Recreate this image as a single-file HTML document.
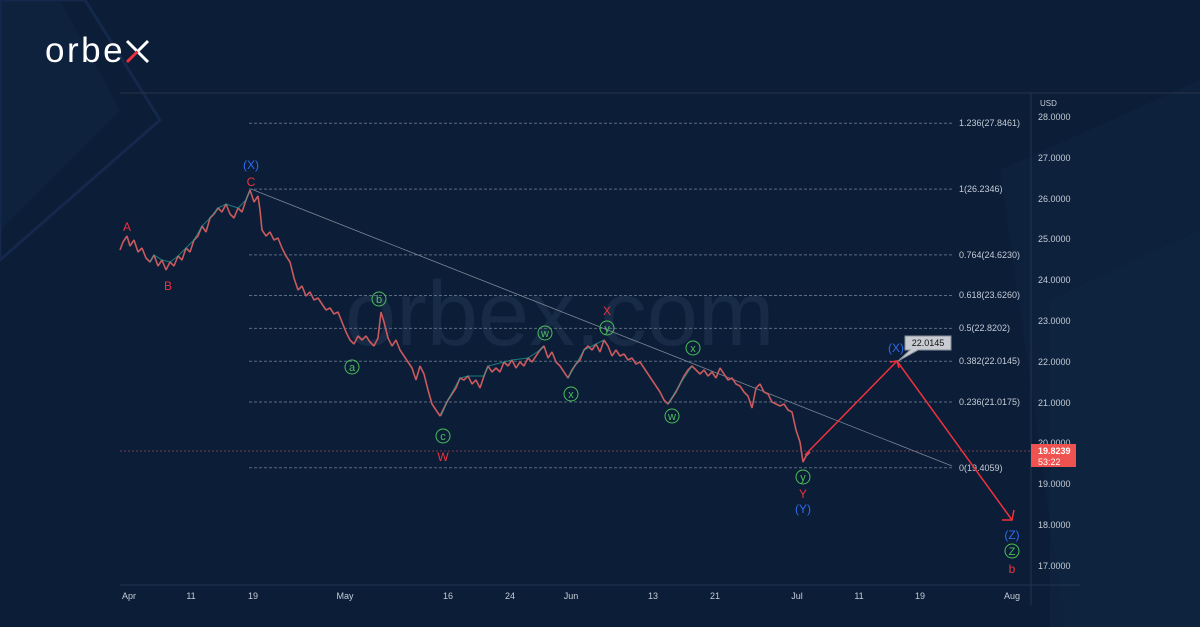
<!DOCTYPE html>
<html><head><meta charset="utf-8"><style>
html,body{margin:0;padding:0;background:#0b1d37;}
svg{display:block;font-family:"Liberation Sans",sans-serif;}
</style></head><body>
<svg width="1200" height="627" viewBox="0 0 1200 627" xmlns="http://www.w3.org/2000/svg">
<rect width="1200" height="627" fill="#0b1d37"/>
<polygon points="0,0 60,0 120,110 0,230" fill="#0e223e"/>
<polygon points="0,0 85,0 160,120 0,260" fill="none" stroke="#13284a" stroke-width="3"/>
<polygon points="1050,627 1200,627 1200,230 1050,300" fill="#0e223e"/>
<polygon points="1100,627 1200,627 1200,80 1000,170 1065,627" fill="#0f2540" opacity="0.6"/>
<text x="45" y="62" font-size="35" fill="#ffffff" letter-spacing="2.5">orbe</text>
<line x1="127" y1="41" x2="148" y2="62" stroke="#fff" stroke-width="3"/>
<line x1="148" y1="41" x2="137.5" y2="51.5" stroke="#fff" stroke-width="3"/>
<line x1="137.5" y1="51.5" x2="127" y2="62" stroke="#e8323c" stroke-width="3"/>
<text x="345" y="345" font-size="92" fill="#1a2e4a" opacity="0.8">orbex.com</text>
<line x1="120" y1="93" x2="1200" y2="93" stroke="#2a3447"/>
<line x1="1031" y1="93" x2="1031" y2="605" stroke="#22344f"/>
<line x1="120" y1="585" x2="1080" y2="585" stroke="#22344f"/>
<g stroke="#5b6b80" stroke-width="1" stroke-dasharray="3,2">
<line x1="249" y1="123.3" x2="952" y2="123.3"/><line x1="249" y1="189.1" x2="952" y2="189.1"/>
<line x1="249" y1="254.9" x2="952" y2="254.9"/><line x1="249" y1="295.5" x2="952" y2="295.5"/>
<line x1="249" y1="328.4" x2="952" y2="328.4"/><line x1="249" y1="361.3" x2="952" y2="361.3"/>
<line x1="249" y1="402" x2="952" y2="402"/><line x1="249" y1="467.8" x2="952" y2="467.8"/>
</g>
<g font-size="9" fill="#c5ccd6">
<text x="959" y="126">1.236(27.8461)</text><text x="959" y="192">1(26.2346)</text>
<text x="959" y="258">0.764(24.6230)</text><text x="959" y="298">0.618(23.6260)</text>
<text x="959" y="331">0.5(22.8202)</text><text x="959" y="364">0.382(22.0145)</text>
<text x="959" y="405">0.236(21.0175)</text><text x="959" y="471">0(19.4059)</text>
</g>
<line x1="120" y1="451" x2="1031" y2="451" stroke="#7a3a4a" stroke-dasharray="2,2"/>
<line x1="251" y1="189" x2="952" y2="466" stroke="#7d8796" stroke-width="0.8"/>
<polyline fill="none" stroke="#c95a5e" stroke-width="1.6" stroke-linejoin="bevel" points="120,250 123,242 127,236 130,246 134,240 138,252 142,248 146,258 150,262 154,255 158,266 162,260 166,270 170,262 174,266 178,256 182,260 186,248 190,252 194,240 198,236 202,226 206,232 210,218 214,214 218,208 222,212 226,204 230,214 234,218 238,208 242,212 246,200 250,190 254,202 258,196 260,210 262,230 266,236 270,232 274,240 278,238 282,248 286,256 290,262 294,278 298,290 302,286 306,296 310,292 314,300 318,298 322,304 326,310 330,308 334,314 338,312 342,322 346,332 350,340 354,344 358,336 362,340 366,336 370,342 374,346 378,338 381,312 384,322 388,338 392,346 396,340 400,350 404,356 408,362 412,368 416,380 420,366 424,374 428,390 432,404 436,410 440,416 444,408 448,400 452,394 456,388 460,378 464,380 468,376 472,384 476,380 480,388 484,376 488,366 492,372 496,368 500,372 504,362 508,366 512,360 516,368 520,362 524,366 528,358 532,362 536,356 540,350 544,346 548,358 552,352 556,362 560,366 564,372 568,378 572,370 576,364 580,360 584,350 588,346 592,350 596,344 600,352 604,340 608,346 612,356 616,350 620,356 624,354 628,360 632,358 636,364 640,362 644,368 648,374 652,380 656,386 660,392 664,400 668,404 672,398 676,392 680,384 684,376 688,370 692,366 696,370 700,374 704,370 708,376 712,372 716,378 720,368 724,374 728,380 732,378 736,384 740,386 744,392 748,396 752,408 756,388 760,384 764,392 768,394 772,402 776,404 780,406 784,404 788,410 792,412 796,430 800,442 803,462 806,456 810,452"/>
<polyline fill="none" stroke="#26a69a" stroke-width="1" opacity="0.7" points="150,262 154,255 162,260 170,262 178,256 186,248 194,240 202,226 210,218 218,208 226,204 238,208 246,200 250,190"/>
<polyline fill="none" stroke="#26a69a" stroke-width="1" opacity="0.7" points="441,416 448,400 460,378 468,376 484,376 488,366 504,362 512,360 528,358 540,350 544,346"/>
<polyline fill="none" stroke="#26a69a" stroke-width="1" opacity="0.7" points="568,378 576,364 584,350 596,344 604,340"/>
<polyline fill="none" stroke="#26a69a" stroke-width="1" opacity="0.7" points="668,404 680,384 692,366"/>
<text x="1040" y="106" font-size="8" fill="#c5ccd6">USD</text>
<g font-size="9" fill="#c5ccd6">
<text x="1038" y="120">28.0000</text><text x="1038" y="161">27.0000</text><text x="1038" y="202">26.0000</text><text x="1038" y="242">25.0000</text><text x="1038" y="283">24.0000</text><text x="1038" y="324">23.0000</text><text x="1038" y="365">22.0000</text><text x="1038" y="406">21.0000</text><text x="1038" y="446">20.0000</text><text x="1038" y="487">19.0000</text><text x="1038" y="528">18.0000</text><text x="1038" y="569">17.0000</text>
</g>
<rect x="1031" y="444" width="45" height="23" fill="#f0524f"/>
<text x="1038" y="454" font-size="9" fill="#fff" font-weight="bold">19.8239</text>
<text x="1038" y="465" font-size="9" fill="#fff">53:22</text>
<g font-size="9" fill="#c5ccd6" text-anchor="middle">
<text x="129" y="599">Apr</text><text x="191" y="599">11</text><text x="253" y="599">19</text><text x="345" y="599">May</text><text x="448" y="599">16</text><text x="510" y="599">24</text><text x="571" y="599">Jun</text><text x="653" y="599">13</text><text x="715" y="599">21</text><text x="797" y="599">Jul</text><text x="859" y="599">11</text><text x="920" y="599">19</text><text x="1012" y="599">Aug</text>
</g>
<polyline points="805,455 897,361 1012,520" fill="none" stroke="#f0323c" stroke-width="1.5"/>
<polyline points="890,362 897,361 899,368" fill="none" stroke="#f0323c" stroke-width="1.5"/>
<polyline points="1002,520 1012,520 1014,510" fill="none" stroke="#f0323c" stroke-width="1.5"/>
<polygon points="905,336 951,336 951,350 918,350 898,361 910,350 905,350" fill="#c8ccd2" stroke="#8a9099"/>
<text x="928" y="346" font-size="9" fill="#111" text-anchor="middle">22.0145</text>
<g font-size="12" text-anchor="middle">
<text x="127" y="231" fill="#f0323c">A</text><text x="168" y="290" fill="#f0323c">B</text>
<text x="251" y="169" fill="#2f6bf0">(X)</text><text x="251" y="186" fill="#f0323c">C</text>
<text x="607" y="315" fill="#f0323c">X</text><text x="443" y="461" fill="#f0323c">W</text>
<text x="803" y="498" fill="#f0323c">Y</text><text x="803" y="513" fill="#2f6bf0">(Y)</text>
<text x="896" y="352" fill="#2f6bf0">(X)</text><text x="1012" y="539" fill="#2f6bf0">(Z)</text>
<text x="1012" y="573" fill="#f0323c">b</text>
</g>
<g fill="none" stroke="#4cbf5a">
<circle cx="379" cy="299" r="7"/><circle cx="352" cy="367" r="7"/><circle cx="443" cy="436" r="7"/><circle cx="545" cy="333" r="7"/><circle cx="571" cy="394" r="7"/><circle cx="607" cy="328" r="7"/><circle cx="693" cy="348" r="7"/><circle cx="672" cy="416" r="7"/><circle cx="803" cy="477" r="7"/><circle cx="1012" cy="551" r="7"/>
</g>
<g font-size="11" fill="#4cbf5a" text-anchor="middle">
<text x="379" y="303">b</text><text x="352" y="371">a</text><text x="443" y="440">c</text><text x="545" y="337">w</text><text x="571" y="398">x</text><text x="607" y="332">y</text><text x="693" y="352">x</text><text x="672" y="420">w</text><text x="803" y="481">y</text><text x="1012" y="555">Z</text>
</g>
</svg>
</body></html>
